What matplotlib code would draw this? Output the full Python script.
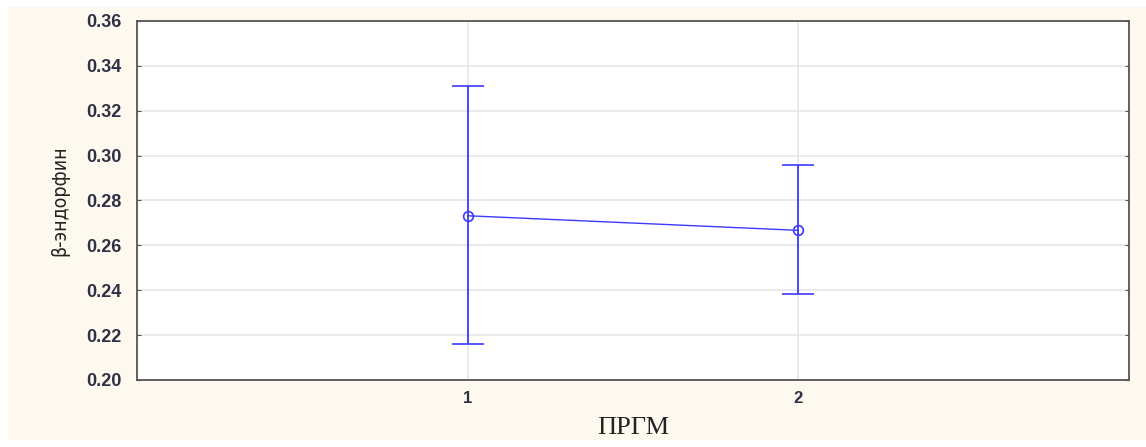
import matplotlib
matplotlib.use("Agg")
import matplotlib.pyplot as plt
from matplotlib.patches import Rectangle

# group means with confidence bounds
groups = [1, 2]
means = [0.2732, 0.2667]
upper = [0.3310, 0.2957]
lower = [0.2160, 0.2385]
yticks = [0.20, 0.22, 0.24, 0.26, 0.28, 0.30, 0.32, 0.34, 0.36]

err_lo = [m - l for m, l in zip(means, lower)]
err_hi = [u - m for m, u in zip(means, upper)]

fig = plt.figure(figsize=(11.46, 4.47), dpi=100, facecolor="white")
# cream panel behind the plot
fig.patches.append(Rectangle((8 / 1146, 7 / 447), 1 - 8 / 1146, 1 - 14 / 447,
                             transform=fig.transFigure, facecolor="#fef9ef",
                             edgecolor="none", zorder=-5))

ax = fig.add_axes([137 / 1146, 67 / 447, 992 / 1146, 359 / 447])
ax.set_zorder(2)
ax.set_facecolor("white")

blue = "#3b3bff"
ax.errorbar(groups, means, yerr=[err_lo, err_hi], color=blue, lw=1.0,
            elinewidth=1.3, capsize=11.5, capthick=1.3, marker="o", ms=7,
            mfc="none", mec=blue, mew=1.2, zorder=3)

ax.set_xlim(0, 3)
ax.set_ylim(0.20, 0.36)
ax.set_xticks(groups)
ax.set_yticks(yticks)
ax.set_yticklabels([f"{v:.2f}" for v in yticks])
ax.grid(True, color="#e6e6e6", lw=1.2)
ax.set_axisbelow(True)

for s in ax.spines.values():
    s.set_color("#555555")
    s.set_linewidth(1.3)

ax.tick_params(axis="y", direction="in", length=3, pad=11, right=True,
               labelsize=13, labelcolor="#2e3145", color="#555555")
ax.tick_params(axis="x", length=0, pad=8, labelsize=12, labelcolor="#2e3145")
for lab in ax.get_yticklabels() + ax.get_xticklabels():
    lab.set_family("Liberation Sans")
    lab.set_fontweight("bold")

ax.set_xlabel("ПРГМ", family="Liberation Serif", fontsize=19, color="#222222",
              labelpad=8)
ax.set_ylabel("β-эндорфин", family="DejaVu Sans", fontstretch="condensed",
              fontsize=14, color="#222222", labelpad=12)

fig.savefig("out.png", dpi=100, facecolor=fig.get_facecolor())
